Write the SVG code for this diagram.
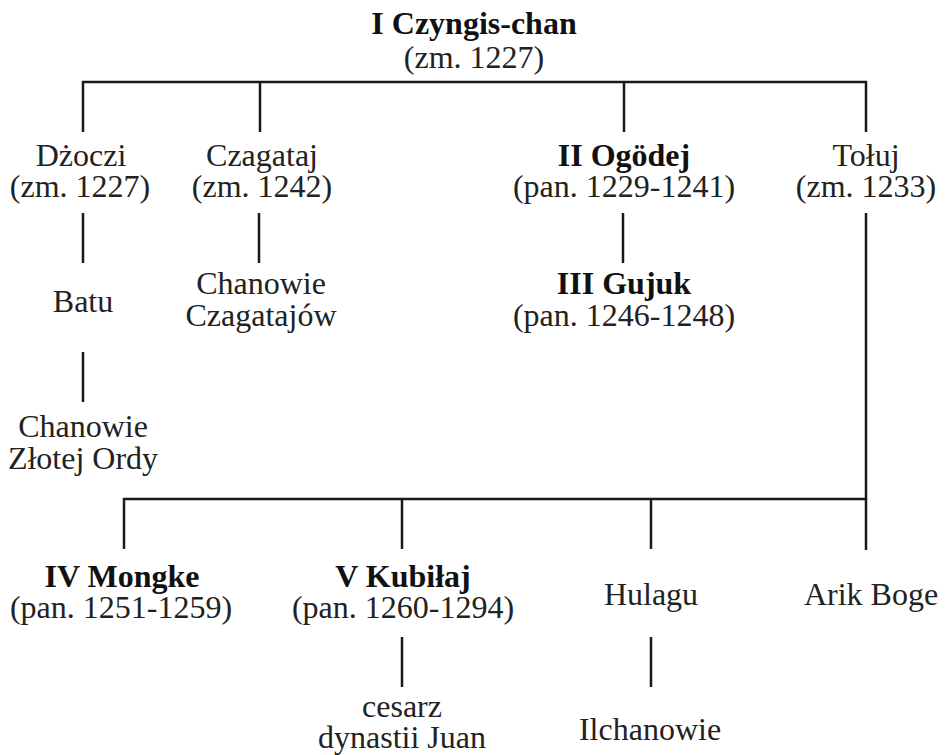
<svg xmlns="http://www.w3.org/2000/svg" width="945" height="755" viewBox="0 0 945 755">
<style>
text{font-family:"Liberation Serif","Times New Roman",serif;font-size:32px;fill:#222;text-anchor:middle}
.b{font-weight:bold;fill:#111}
.c line{stroke:#1a1a1a;stroke-width:2.5;fill:none}
</style>
<rect width="945" height="755" fill="#fff"/>
<g class="c" id="connectors">
<line x1="82" y1="82" x2="867" y2="82"/>
<line x1="83" y1="81" x2="83" y2="132"/>
<line x1="260" y1="81" x2="260" y2="132"/>
<line x1="624" y1="81" x2="624" y2="132"/>
<line x1="866" y1="81" x2="866" y2="132"/>
<line x1="83" y1="213" x2="83" y2="263"/>
<line x1="259" y1="213" x2="259" y2="263"/>
<line x1="623" y1="213" x2="623" y2="263"/>
<line x1="866" y1="213" x2="866" y2="550"/>
<line x1="83" y1="352" x2="83" y2="402"/>
<line x1="123" y1="499" x2="867" y2="499"/>
<line x1="124" y1="498" x2="124" y2="549"/>
<line x1="402" y1="498" x2="402" y2="549"/>
<line x1="651" y1="498" x2="651" y2="549"/>
<line x1="402" y1="637" x2="402" y2="687"/>
<line x1="651" y1="637" x2="651" y2="687"/>
</g>
<g id="czyngis"><text class="b" x="474" y="34">I Czyngis-chan</text><text x="474" y="68">(zm. 1227)</text></g>
<g id="dzoczi"><text x="81" y="166">Dżoczi</text><text x="80" y="197">(zm. 1227)</text></g>
<g id="czagataj"><text x="262" y="166">Czagataj</text><text x="262" y="197">(zm. 1242)</text></g>
<g id="ogodej"><text class="b" x="624" y="166">II Ogödej</text><text x="624" y="197">(pan. 1229-1241)</text></g>
<g id="toluj"><text x="866" y="166">Tołuj</text><text x="866" y="197">(zm. 1233)</text></g>
<g id="batu"><text x="83" y="312">Batu</text></g>
<g id="chanowie-czagatajow"><text x="261" y="294">Chanowie</text><text x="261" y="326">Czagatajów</text></g>
<g id="gujuk"><text class="b" x="624" y="294">III Gujuk</text><text x="624" y="326">(pan. 1246-1248)</text></g>
<g id="zlota-orda"><text x="83" y="437">Chanowie</text><text x="83" y="469">Złotej Ordy</text></g>
<g id="mongke"><text class="b" x="122" y="587">IV Mongke</text><text x="121" y="618">(pan. 1251-1259)</text></g>
<g id="kubilaj"><text class="b" x="403" y="587">V Kubiłaj</text><text x="403" y="618">(pan. 1260-1294)</text></g>
<g id="hulagu"><text x="651" y="605">Hulagu</text></g>
<g id="arik-boge"><text x="871" y="605">Arik Boge</text></g>
<g id="juan"><text x="402" y="717">cesarz</text><text x="402" y="748">dynastii Juan</text></g>
<g id="ilchanowie"><text x="650" y="740">Ilchanowie</text></g>
</svg>
